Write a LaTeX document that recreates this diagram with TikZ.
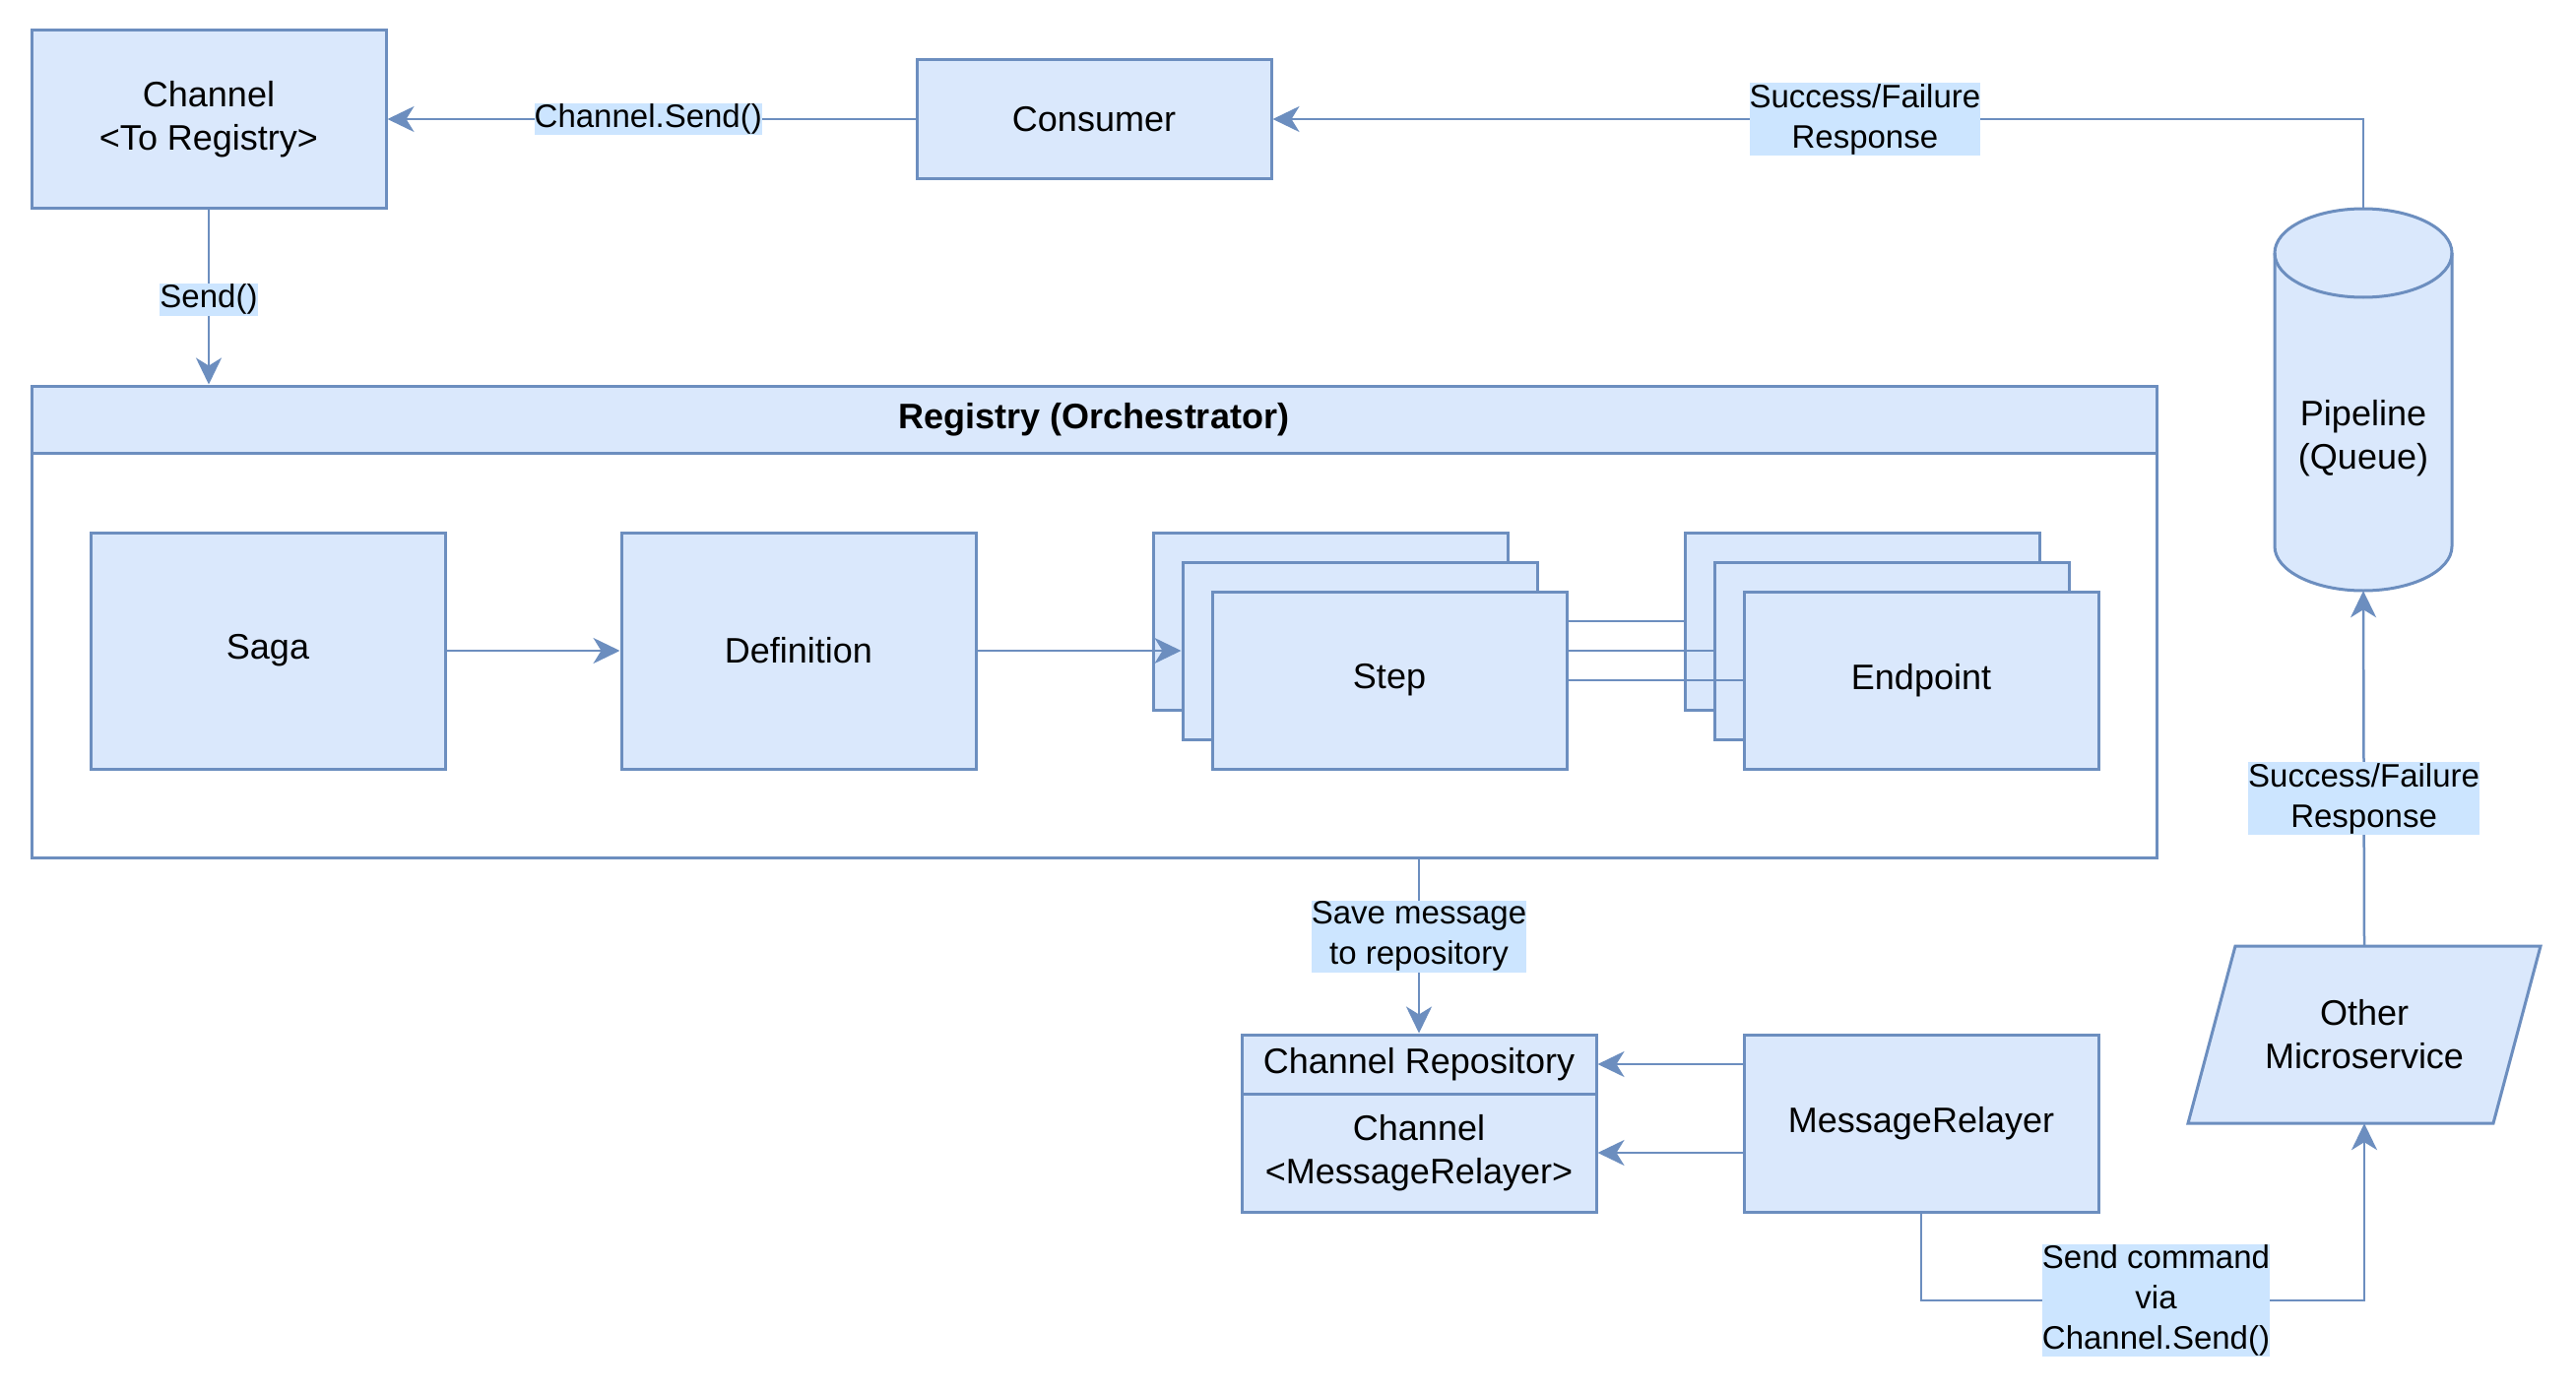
\documentclass[tikz,border=0pt]{standalone}
\usepackage{fontspec}
\setmainfont{Liberation Sans}
\usetikzlibrary{arrows.meta}
\definecolor{boxfill}{HTML}{DAE8FC}
\definecolor{boxline}{HTML}{6C8EBF}
\definecolor{lblfill}{HTML}{CCE5FF}
\begin{document}
\begin{tikzpicture}[x=1pt,y=-1pt,
 box/.style={draw=boxline, fill=boxfill, line width=3pt, minimum width=360pt, minimum height=180pt, align=center, font=\fontsize{36}{44}\selectfont, inner sep=0pt},
 ghost/.style={draw=none, fill=none, inner sep=0pt, align=center, font=\fontsize{36}{44}\selectfont},
 conn/.style={draw=boxline, line width=2.5pt, -{Stealth[length=27pt,width=26pt,inset=8pt]}},
 plainline/.style={draw=boxline, line width=2.5pt},
 lbl/.style={fill=lblfill, inner xsep=0pt, inner ysep=1pt, align=center, font=\fontsize{33}{41}\selectfont, text=black},
]
\useasboundingbox[fill=white] (0,0) rectangle (2616,1413);

% Channel and Consumer
\node[box] (chan) at (212,121) {Channel\\<To Registry>};
\node[box, minimum height=120pt] (cons) at (1111,121) {Consumer};

% Registry container
\node[draw=boxline, line width=3pt, minimum width=2158pt, minimum height=479pt, inner sep=0pt] (reg) at (1111,631.5) {};
\node[box, minimum width=2158pt, minimum height=68pt, font=\fontsize{36}{44}\selectfont\bfseries] (reghead) at (1111,426) {Registry (Orchestrator)};

\node[box, minimum height=240pt] (saga) at (272,661) {Saga};
\node[box, minimum height=240pt] (defn) at (811,661) {Definition};

\node[box] (stepA) at (1351,631) {};
\node[box] (stepB) at (1381,661) {};
\node[box] (stepC) at (1411,691) {Step};

\node[box] (endA) at (1891,631) {};
\node[box] (endB) at (1921,661) {};
\node[box] (endC) at (1951,691) {Endpoint};

% Pipeline cylinder
\filldraw[fill=boxfill, draw=boxline, line width=3pt]
  (2310,257) -- (2310,555) arc (180:360:90pt and 45pt) -- (2490,257) arc (0:180:90pt and 45pt) -- cycle;
\draw[boxline, line width=3pt] (2310,257) arc (180:360:90pt and 45pt);
\node[ghost, minimum width=180pt, minimum height=388pt] (pipe) at (2400,406) {};
\node[ghost] (pipetxt) at (2400,445) {Pipeline\\(Queue)};

% Other Microservice parallelogram
\filldraw[fill=boxfill, draw=boxline, line width=3pt]
  (2270,961) -- (2580,961) -- (2532,1141) -- (2222,1141) -- cycle;
\node[ghost, minimum width=358pt, minimum height=180pt] (micro) at (2401,1051) {Other\\Microservice};

% Channel Repository
\node[box, minimum height=180pt] (repo) at (1441,1141) {};
\node[box, minimum height=60pt] (repohead) at (1441,1081) {Channel Repository};
\node[ghost] (repobody) at (1441,1171) {Channel\\<MessageRelayer>};

% MessageRelayer
\node[box] (relay) at (1951,1141) {MessageRelayer};

% Connectors
\draw[conn] (cons.west) -- node[lbl, pos=0.506] {Channel.Send()} (chan.east);
\draw[conn] (chan.south) -- node[lbl, pos=0.516] {Send()} (chan.south |- reg.north);
\draw[conn] (saga.east) -- (defn.west);
\draw[conn] (defn.east) -- (stepB.west);
\draw[plainline] (stepC.east |- endA.west) -- (endA.west);
\draw[plainline] (stepC.east |- endB.west) -- (endB.west);
\draw[plainline] (stepC.east) -- (endC.west);
\draw[conn] (repo.north |- reg.south) -- node[lbl, pos=0.444] {Save message\\to repository} (repo.north);
\draw[conn] (relay.west |- repohead.east) -- (repohead.east);
\draw[conn] (relay.west |- repobody) -- (repo.east |- repobody);
\draw[conn] (relay.south) -- (relay.south |- 0,1321) -- node[lbl, pos=0.53] {Send command\\via\\Channel.Send()} (micro.south |- 0,1321) -- (micro.south);
\draw[conn] (micro.north) -- node[lbl, pos=0.415] {Success/Failure\\Response} (pipe.south);
\draw[conn] (pipe.north) -- (pipe.north |- cons.east) -- node[lbl, pos=0.457] {Success/Failure\\Response} (cons.east);
\end{tikzpicture}
\end{document}
